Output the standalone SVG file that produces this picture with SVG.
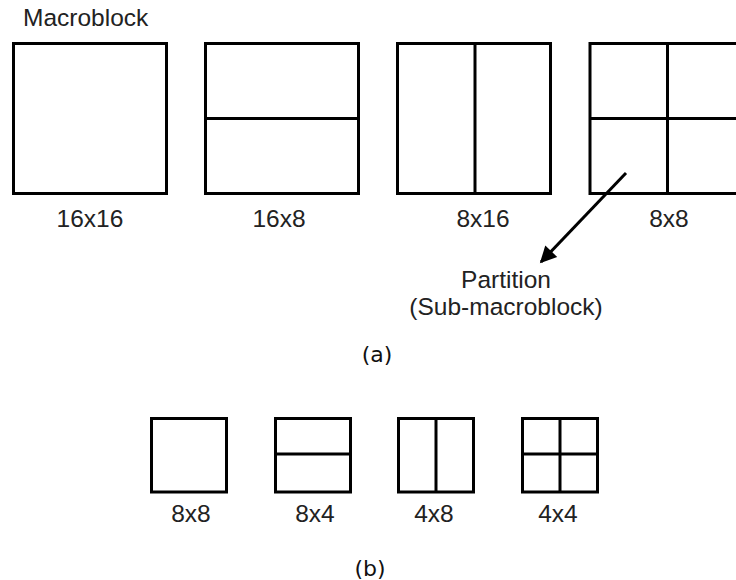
<svg xmlns="http://www.w3.org/2000/svg" width="736" height="580" viewBox="0 0 736 580">
  <style>
    .blk { fill: #ffffff; stroke: #000000; stroke-width: 3; }
    .div { stroke: #000000; stroke-width: 3; fill: none; }
    .lbl { font-family: "Liberation Sans", Arial, sans-serif; font-size: 24.5px; fill: #222222; text-anchor: middle; }
    .cap { font-family: "DejaVu Sans", sans-serif; font-size: 22px; fill: #111111; text-anchor: middle; }
  </style>
  <defs>
    <marker id="head" viewBox="0 0 10 10" refX="9" refY="5" markerWidth="7" markerHeight="5.5" orient="auto" markerUnits="strokeWidth">
      <path d="M0,0 L10,5 L0,10 Z" fill="#000000"/>
    </marker>
  </defs>
  <rect width="736" height="580" fill="#ffffff"/>

  <!-- (a) macroblock partitions -->
  <text class="lbl" x="23" y="26" style="text-anchor:start">Macroblock</text>

  <g id="mb-16x16">
    <rect class="blk" x="13.5" y="43.5" width="153" height="150"/>
    <text class="lbl" x="90" y="227">16x16</text>
  </g>

  <g id="mb-16x8">
    <rect class="blk" x="205.5" y="43.5" width="153" height="150"/>
    <line class="div" x1="205.5" y1="118.5" x2="358.5" y2="118.5"/>
    <text class="lbl" x="279" y="227">16x8</text>
  </g>

  <g id="mb-8x16">
    <rect class="blk" x="397.5" y="43.5" width="153" height="150"/>
    <line class="div" x1="475" y1="43.5" x2="475" y2="193.5"/>
    <text class="lbl" x="483" y="227">8x16</text>
  </g>

  <g id="mb-8x8">
    <rect class="blk" x="590" y="43.5" width="153" height="150"/>
    <line class="div" x1="667.5" y1="43.5" x2="667.5" y2="193.5"/>
    <line class="div" x1="590" y1="118.5" x2="743" y2="118.5"/>
    <text class="lbl" x="669" y="227">8x8</text>
  </g>

  <g id="partition-note">
    <text class="lbl" x="506" y="288">Partition</text>
    <text class="lbl" x="506" y="315">(Sub-macroblock)</text>
  </g>

  <g id="connectors">
    <line class="div" x1="626" y1="173" x2="541" y2="262" marker-end="url(#head)"/>
  </g>

  <text class="cap" x="377" y="362">(a)</text>

  <!-- (b) sub-macroblock partitions -->
  <g id="sub-8x8">
    <rect class="blk" x="151.5" y="418.5" width="75" height="73.5"/>
    <text class="lbl" x="191" y="522">8x8</text>
  </g>

  <g id="sub-8x4">
    <rect class="blk" x="275.5" y="418.5" width="75" height="73.5"/>
    <line class="div" x1="275.5" y1="454" x2="350.5" y2="454"/>
    <text class="lbl" x="315" y="522">8x4</text>
  </g>

  <g id="sub-4x8">
    <rect class="blk" x="398.5" y="418.5" width="75" height="73.5"/>
    <line class="div" x1="436" y1="418.5" x2="436" y2="492"/>
    <text class="lbl" x="434" y="522">4x8</text>
  </g>

  <g id="sub-4x4">
    <rect class="blk" x="522.5" y="418.5" width="75" height="73.5"/>
    <line class="div" x1="560" y1="418.5" x2="560" y2="492"/>
    <line class="div" x1="522.5" y1="454" x2="597.5" y2="454"/>
    <text class="lbl" x="558" y="522">4x4</text>
  </g>

  <text class="cap" x="370" y="576">(b)</text>
</svg>
